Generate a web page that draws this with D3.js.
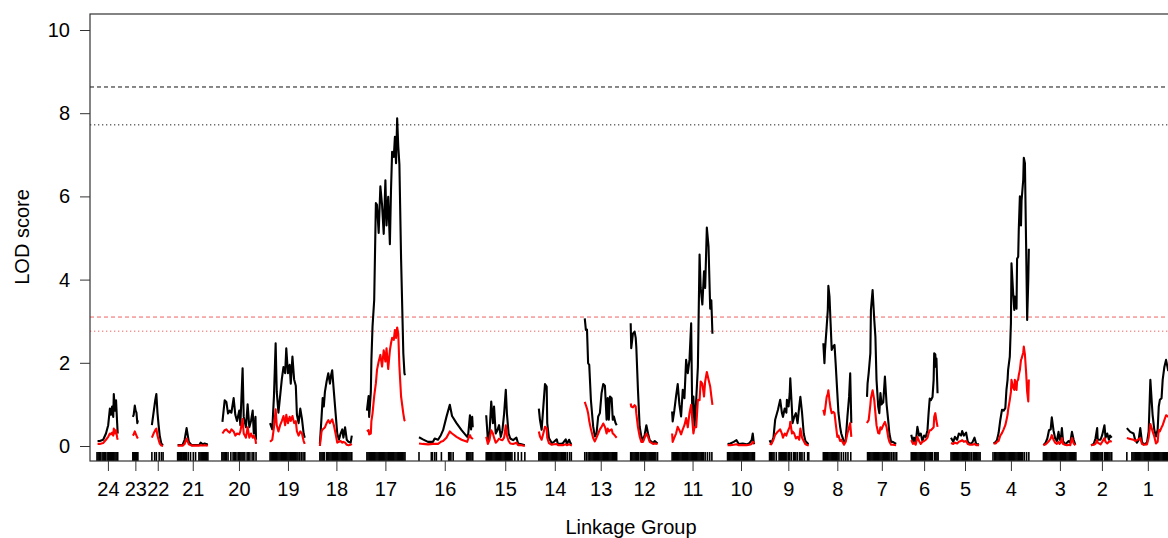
<!DOCTYPE html>
<html>
<head>
<meta charset="utf-8">
<script src="https://cdn.jsdelivr.net/npm/d3@7"></script>
<style>
  body { margin: 0; background: #fff; }
  svg { display: block; font-family: "Liberation Sans", Arial, sans-serif; }
</style>
</head>
<body>
<div id="lod-vis"></div>
<script>
// Linkage groups, left to right, with their lengths (cM)
const chromNames = ["24","23","22","21","20","19","18","17","16","15","14","13","12","11","10","9","8","7","6","5","4","3","2","1"];
const chromLengths = [39,9,21,54,61,64,59,66,96,70,57,57,48,75,48,71,54,55,46,50,64,61,39,75];
const chromGap = 25;

// LOD profiles per linkage group: [position cM, LOD (black), LOD (red)]
const lod24 = [[1,0.12,0.05],[5,0.12,0.05],[11,0.15,0.07],[16,0.3,0.15],[20,0.5,0.22],[23,0.9,0.3],[25,0.75,0.28],[27,0.95,0.32],[29,0.7,0.25],[30,1.25,0.42],[32,0.85,0.3],[34,1.1,0.38],[36,0.55,0.2],[37,0.3,0.15]];
const lod23 = [[0,0.7,0.25],[1.5,0.75,0.28],[3.5,0.97,0.35],[5,0.85,0.3],[6.5,0.8,0.25],[8,0.55,0.2],[9,0.62,0.18]];
const lod22 = [[0,0.5,0.2],[3,0.8,0.3],[6,1.1,0.38],[8,1.25,0.42],[10,0.8,0.25],[12,0.5,0.15],[14,0.25,0.06],[17,0.05,0.01],[20,0.02,0]];
const lod21 = [[0,0.02,0.01],[9,0.03,0.01],[12.5,0.15,0.05],[16,0.43,0.18],[20,0.1,0.04],[25,0.02,0.01],[39,0.03,0.01],[41,0.08,0.02],[45,0.04,0.01],[48,0.06,0.02],[52,0.04,0.01],[54,0.05,0.02]];
const lod20 = [[1,0.58,0.3],[5,1.1,0.38],[8,1.06,0.4],[11,0.78,0.35],[14,0.85,0.32],[17,0.8,0.4],[21,1.15,0.35],[24,0.75,0.25],[27,0.6,0.3],[31,0.85,0.28],[33,0.5,0.35],[37,1.87,0.65],[39,0.7,0.3],[43,0.45,0.2],[46,1.0,0.45],[49,0.45,0.2],[52,0.6,0.3],[55,0.85,0.2],[57,0.3,0.25],[60,0.7,0.15],[61,0.15,0.05]];
const lod19 = [[0,0.55,0.1],[4,0.4,0.15],[7,1.2,0.45],[10,2.47,0.88],[12,1.3,0.5],[15,0.8,0.35],[18,1.2,0.5],[21,1.6,0.6],[24,1.9,0.72],[27,1.75,0.5],[29,2.35,0.75],[32,1.75,0.55],[35,1.95,0.7],[37,1.5,0.6],[40,2.15,0.72],[43,1.6,0.55],[46,1.45,0.6],[48,0.75,0.35],[51,0.55,0.25],[54,0.9,0.35],[57,0.65,0.3],[60,0.3,0.12],[62,0.2,0.05]];
const lod18 = [[0,0.05,0],[3,0.7,0.35],[5,1.15,0.4],[7,0.95,0.42],[9,1.3,0.45],[12,1.55,0.55],[15,1.75,0.62],[18,1.5,0.55],[20,1.7,0.6],[22,1.82,0.64],[25,1.3,0.5],[28,0.8,0.3],[31,0.3,0.08],[34,0.15,0.1],[37,0.3,0.12],[40,0.4,0.08],[42,0.2,0.1],[45,0.45,0.08],[48,0.15,0.03],[51,0.1,0.02],[55,0.08,0.03],[57,0.25,0.05]];
const lod17 = [[0,0.85,0.35],[3,1.2,0.38],[4,0.7,0.28],[7,1.3,0.3],[8,2.07,0.6],[10,2.87,0.78],[13,3.51,1.2],[16,5.84,1.51],[18,5.8,1.83],[21,5.12,2.03],[24,6.24,2.19],[27,5.8,1.91],[30,5.1,2.3],[33,6.39,2.03],[35,5.3,2.35],[38,5.99,1.85],[41,4.85,2.3],[43,6.15,2.47],[45,7.07,2.6],[48,6.95,2.55],[50,7.43,2.79],[52,6.8,2.6],[54,7.88,2.85],[56,7.2,2.7],[58,6.77,1.91],[61,4.5,1.19],[65,2.23,0.78],[67,1.75,0.62],[68,1.7,0.6]];
const lod16 = [[2,0.21,0.06],[9,0.16,0.05],[18,0.1,0.04],[27,0.1,0.05],[30,0.18,0.05],[36,0.15,0.05],[41,0.26,0.1],[45,0.38,0.12],[51,0.7,0.2],[57,0.99,0.35],[61,0.72,0.3],[69,0.55,0.22],[78,0.38,0.15],[88,0.22,0.1],[90,0.3,0.18],[93,0.74,0.26],[95,0.4,0.2],[97,0.7,0.18],[98,0.45,0.2]];
const lod15 = [[1,0.74,0.22],[4,0.14,0.05],[7,0.35,0.15],[10,1.07,0.38],[13,0.55,0.3],[15,0.95,0.2],[18,0.3,0.08],[21,0.38,0.12],[24,0.5,0.18],[27,0.22,0.15],[30,0.38,0.14],[33,0.78,0.2],[36,1.35,0.5],[38,0.78,0.25],[41,0.3,0.12],[44,0.18,0.06],[49,0.14,0.05],[55,0.2,0.08],[58,0.06,0.02],[64,0.04,0.02],[70,0.02,0]];
const lod14 = [[0,0.9,0.35],[2,0.63,0.23],[5,0.39,0.15],[8,0.94,0.3],[11,1.49,0.46],[14,1.43,0.42],[15,0.55,0.2],[18,0.19,0.07],[23,0.07,0.03],[27,0.1,0.04],[32,0.16,0.05],[34,0.05,0.02],[40,0.05,0.02],[43,0.07,0.02],[48,0.16,0.04],[50,0.05,0.02],[54,0.15,0.04],[57,0.05,0.02],[59,0.06,0.02]];
const lod13 = [[0,3.07,1.06],[2,2.79,0.98],[4,2.8,0.9],[6,1.99,0.79],[8,1.95,0.6],[11,1.1,0.4],[15,0.47,0.19],[18,0.23,0.11],[21,0.3,0.2],[24,0.71,0.3],[27,0.79,0.4],[30,1.27,0.46],[33,1.49,0.54],[36,1.45,0.46],[39,0.63,0.3],[41,1.15,0.42],[43,0.63,0.35],[45,1.19,0.38],[48,1.15,0.4],[50,0.63,0.3],[52,0.71,0.28],[55,0.55,0.23],[57,0.5,0.2]];
const lod12 = [[0,2.95,1.02],[1,2.35,0.95],[4,2.7,0.93],[7,2.75,0.98],[9,2.6,0.95],[10,2.39,0.79],[13,1.35,0.45],[16,0.47,0.23],[19,0.23,0.1],[22,0.12,0.1],[25,0.27,0.2],[28,0.5,0.3],[31,0.3,0.22],[34,0.14,0.1],[40,0.07,0.05],[43,0.12,0.06],[48,0.06,0.05]];
const lod11 = [[1,0.83,0.3],[2,0.59,0.1],[5,0.86,0.2],[8,1.19,0.3],[11,1.49,0.46],[14,1.0,0.38],[17,0.71,0.28],[20,1.35,0.4],[23,1.15,0.5],[26,2.07,0.67],[29,1.75,0.45],[32,2.07,0.79],[35,2.95,0.99],[37,0.71,0.62],[39,1.19,0.3],[41,0.47,0.45],[44,1.11,0.45],[47,1.9,1.11],[50,4.6,1.1],[52,3.8,1.55],[55,3.4,1.5],[58,4.2,1.19],[60,3.8,1.55],[63,5.25,1.78],[66,4.8,1.6],[69,3.3,1.43],[71,3.5,1.2],[73,2.7,0.99]];
const lod10 = [[0,0.05,0.02],[5,0.06,0.02],[11,0.1,0.03],[16,0.14,0.04],[20,0.05,0.02],[27,0.06,0.02],[34,0.04,0.02],[39,0.07,0.03],[43,0.14,0.05],[45,0.3,0.1],[47,0.06,0.08],[48,0.08,0.07]];
const lod9 = [[2,0.14,0.05],[5,0.06,0.04],[9,0.2,0.15],[12,0.63,0.27],[17,0.87,0.35],[21,1.11,0.4],[24,0.8,0.3],[26,0.7,0.2],[29,0.9,0.3],[32,0.8,0.25],[33,1.11,0.3],[36,0.95,0.4],[38,1.27,0.46],[39,1.63,0.58],[42,0.87,0.3],[43,0.55,0.35],[46,0.7,0.3],[49,0.79,0.18],[52,0.55,0.22],[55,0.95,0.15],[57,1.18,0.42],[60,0.8,0.2],[63,0.3,0.12],[66,0.12,0.04],[70,0.06,0.02],[72,0.05,0.02]];
const lod8 = [[2,2.47,0.87],[4,1.99,0.75],[5,2.3,0.85],[8,2.87,1.18],[10,3.27,1.25],[11,3.85,1.34],[13,3.6,1.1],[15,2.95,0.9],[17,2.31,0.79],[20,2.4,0.82],[22,2.43,0.79],[24,1.99,0.55],[27,1.27,0.22],[29,0.8,0.25],[32,0.46,0.12],[34,0.3,0.15],[36,0.22,0.1],[39,0.1,0.03],[42,0.14,0.1],[45,0.7,0.3],[48,1.18,0.45],[50,1.75,0.55],[52,0.55,0.22]];
const lod7 = [[1,1.18,0.55],[2,1.5,0.58],[4,1.75,0.62],[7,2.23,0.99],[8,3.27,1.15],[11,3.75,1.34],[14,3.03,1.1],[16,2.63,0.79],[18,1.59,0.5],[21,0.95,0.31],[23,0.79,0.3],[25,1.27,0.45],[27,1.0,0.4],[30,1.05,0.5],[33,1.67,0.58],[36,1.0,0.45],[39,0.6,0.2],[41,0.3,0.1],[44,0.1,0.03],[47,0.1,0.03],[53,0.05,0.02]];
const lod6 = [[0,0.27,0.14],[3,0.1,0.05],[5,0.2,0.08],[8,0.08,0.03],[11,0.46,0.22],[14,0.25,0.12],[17,0.3,0.05],[20,0.12,0.1],[23,0.25,0.12],[26,0.22,0.15],[29,0.38,0.2],[31,0.79,0.3],[33,1.14,0.38],[35,1.1,0.38],[38,1.18,0.42],[40,1.59,0.45],[41,2.23,0.7],[43,2.2,0.79],[44,1.9,0.7],[45,2.1,0.6],[47,1.27,0.46]];
const lod5 = [[0,0.2,0.07],[4,0.1,0.05],[7,0.22,0.08],[11,0.15,0.06],[14,0.3,0.1],[18,0.25,0.12],[20,0.36,0.14],[23,0.25,0.1],[27,0.32,0.12],[30,0.1,0.05],[34,0.05,0.03],[38,0.08,0.03],[42,0.2,0.05],[45,0.05,0.02],[48,0.04,0.02],[50,0.05,0.02]];
const lod4 = [[1,0.06,0.06],[5,0.1,0.06],[7,0.14,0.1],[10,0.31,0.12],[13,0.62,0.25],[16,0.87,0.31],[19,0.85,0.4],[22,0.91,0.5],[24,1.35,0.62],[26,1.59,0.75],[27,1.83,0.87],[30,2.15,1.11],[32,2.95,1.3],[33,4.39,1.59],[36,3.67,1.4],[38,3.27,1.35],[39,3.59,1.59],[42,3.3,1.35],[43,4.5,1.55],[45,4.55,1.6],[46,5.19,1.7],[48,6.0,1.83],[50,5.3,2.07],[51,5.9,2.1],[54,6.4,2.25],[55,6.93,2.39],[57,6.8,2.2],[59,4.95,1.8],[61,3.03,1.3],[63,3.99,1.07],[64,4.74,1.6]];
const lod3 = [[1,0.02,0.02],[5,0.08,0.04],[8,0.18,0.08],[11,0.38,0.12],[14,0.4,0.18],[16,0.69,0.26],[19,0.38,0.15],[22,0.18,0.08],[25,0.12,0.05],[28,0.34,0.1],[30,0.15,0.05],[32,0.15,0.08],[34,0.43,0.19],[36,0.12,0.05],[40,0.04,0.03],[43,0.08,0.02],[46,0.12,0.03],[49,0.08,0.02],[52,0.34,0.19],[55,0.15,0.06],[58,0.03,0.02]];
const lod2 = [[0,0.02,0.02],[5,0.05,0.03],[8,0.18,0.05],[11,0.43,0.14],[12,0.15,0.08],[17,0.15,0.04],[20,0.26,0.1],[24,0.5,0.19],[26,0.2,0.1],[29,0.3,0.06],[32,0.15,0.1],[34,0.25,0.12],[37,0.2,0.1]];
const lod1 = [[0,0.43,0.19],[6,0.34,0.17],[12,0.3,0.15],[15,0.14,0.12],[18,0.08,0.14],[21,0.14,0.16],[24,0.43,0.19],[27,0.1,0.05],[30,0.04,0.03],[36,0.08,0.04],[39,0.35,0.2],[42,1.59,0.53],[45,0.95,0.4],[46,0.75,0.35],[49,0.39,0.23],[52,0.23,0.06],[55,0.39,0.1],[57,0.95,0.39],[59,1.11,0.35],[62,1.15,0.45],[64,1.59,0.5],[67,1.9,0.62],[70,2.07,0.74],[74,1.8,0.7]];

// Marker positions (cM) per linkage group, drawn as a rug
const mk24 = [0,2,4,6,9,11,13,15,18,20,22,24,26,28,30,32,34,36,37];
const mk23 = [0,1.5,3,4.5,6,7.5,9];
const mk22 = [0,5,8,13,17,20];
const mk21 = [0,1.5,3,5,6.5,8,10,12,14,16,19,23,28,32,38,40,42,44,46,48,50,52,54];
const mk20 = [0,2,4,6,8,11,16,20,22,24,27,30,32,34,36,38,41,45,47,50,54,57,61];
const mk19 = [0,2,4,6,8,10,12,14,16,18,20,22,24,26,28,30,32,34,36,38,40,42,44,46,48,50,53,56,59,62];
const mk18 = [0,2,4,6,8,12,14,16,18,20,22,24,26,28,30,32,34,36,38,40,42,44,46,48,50,52,54,57];
const mk17 = [0,2,4,6,8,10,12,14,16,18,20,22,24,26,28,30,32,34,36,38,40,42,44,46,48,50,52,54,56,58,60,62,64,66,68];
const mk16 = [2,24,26,30,33,42,55,57,59,63,87,89,91,93,95,98];
const mk15 = [1,3,5,7,9,11,13,15,17,19,21,23,25,27,29,31,33,35,37,39,41,43,45,47,52,58,64,70];
const mk14 = [0,2,4,6,8,10,12,14,16,18,20,22,24,26,28,30,32,34,36,38,40,42,44,46,48,51,55,58];
const mk13 = [0,3,6,9,11,13,15,17,19,21,23,25,27,29,31,33,35,37,39,41,43,45,47,49,51,53,55,57];
const mk12 = [0,2,4,6,8,10,12,14,17,19,21,23,25,27,29,31,33,35,37,39,41,43,45,48];
const mk11 = [1,3,5,7,9,11,13,15,17,19,21,23,25,27,29,31,33,35,37,39,41,43,45,47,49,51,53,55,57,60,64,68,72];
const mk10 = [0,2,4,6,8,10,12,14,16,18,20,22,24,26,28,30,32,34,36,38,40,42,44,46,48];
const mk9 = [2,4,6,8,10,14,19,21,23,25,27,29,31,33,36,38,41,45,47,49,52,56,58,60,64,70,72];
const mk8 = [2,4,6,8,10,12,14,16,18,20,22,24,26,28,30,34,38,42,46,51];
const mk7 = [2,4,6,8,10,12,14,16,18,20,22,24,26,28,30,32,34,36,38,40,42,45,48,51,54];
const mk6 = [0,2,4,6,8,10,12,14,16,18,20,22,24,26,28,30,32,34,36,38,42,44,46,48];
const mk5 = [0,2,4,6,8,10,12,14,16,18,20,22,24,26,28,30,32,34,37,40,42,44,46,48,50,52];
const mk4 = [0,3,5,7,9,11,13,15,17,19,21,23,25,27,29,31,33,35,37,39,41,43,45,47,49,51,53,56,60,64];
const mk3 = [1,3,5,7,9,11,13,15,17,19,21,23,25,27,29,31,33,35,37,39,41,43,45,47,49,51,53,55,57,59];
const mk2 = [0,2,4,6,8,10,12,14,16,18,20,24,26,28,30,32,34,37];
const mk1 = [0,9,11,13,15,17,19,21,23,25,27,29,31,33,35,37,39,41,43,45,47,49,51,53,55,57,59,61,63,65,67,69,71,73,75];

// Significance thresholds (LOD)
const blackThresholds = [8.63, 7.72];
const redThresholds = [3.10, 2.76];
const yTicks = [0, 2, 4, 6, 8, 10];

const profiles = [lod24,lod23,lod22,lod21,lod20,lod19,lod18,lod17,lod16,lod15,lod14,lod13,lod12,lod11,lod10,lod9,lod8,lod7,lod6,lod5,lod4,lod3,lod2,lod1];
const markerSets = [mk24,mk23,mk22,mk21,mk20,mk19,mk18,mk17,mk16,mk15,mk14,mk13,mk12,mk11,mk10,mk9,mk8,mk7,mk6,mk5,mk4,mk3,mk2,mk1];

// Lay the groups out end to end with a gap between them
let offset = 0;
const chroms = chromNames.map(function(name, i) {
    const c = {name: name, start: offset, len: chromLengths[i], lod: profiles[i], markers: markerSets[i]};
    offset += chromLengths[i] + chromGap;
    return c;
});

const width = 1168, height = 538;
const plot = {left: 90, top: 14, bottom: 461, right: 1200};

let svg = d3.select("#lod-vis")
            .append("svg")
            .attr("width", width)
            .attr("height", height);

const xScale = d3.scaleLinear()
                .domain([0, offset])
                .range([97, 97 + offset * 0.56]);
const yScale = d3.scaleLinear()
                .domain([0, 10])
                .range([446, 30]);

svg.append("clipPath").attr("id", "plot-clip")
    .append("rect")
    .attr("x", plot.left).attr("y", plot.top)
    .attr("width", plot.right - plot.left).attr("height", plot.bottom - plot.top);

// Threshold lines
const thresholdData = [
    {v: blackThresholds[0], color: "#111", dash: "4,3"},
    {v: blackThresholds[1], color: "#222", dash: "1.3,2.7"},
    {v: redThresholds[0], color: "#f06060", dash: "4,3"},
    {v: redThresholds[1], color: "#f06060", dash: "1.3,2.7"}
];
svg.append("g").selectAll("line")
    .data(thresholdData)
    .enter()
    .append("line")
        .attr("x1", plot.left).attr("x2", plot.right)
        .attr("y1", d => yScale(d.v)).attr("y2", d => yScale(d.v))
        .attr("stroke", d => d.color)
        .attr("stroke-width", 1)
        .attr("stroke-dasharray", d => d.dash);

// LOD curves: black first, red on top
const curves = svg.append("g").attr("clip-path", "url(#plot-clip)");
[{idx: 1, color: "#000"}, {idx: 2, color: "#ff0000"}].forEach(function(s) {
    curves.selectAll(null)
        .data(chroms)
        .enter()
        .append("path")
            .attr("fill", "none")
            .attr("stroke", s.color)
            .attr("stroke-width", 2.1)
            .attr("stroke-linejoin", "round")
            .attr("d", c => d3.line()
                .x(d => xScale(c.start + d[0]))
                .y(d => yScale(d[s.idx]))(c.lod));
});

// Marker rug
const rug = svg.append("g").attr("clip-path", "url(#plot-clip)");
chroms.forEach(function(c) {
    rug.selectAll(null)
        .data(c.markers)
        .enter()
        .append("line")
            .attr("x1", d => xScale(c.start + d)).attr("x2", d => xScale(c.start + d))
            .attr("y1", plot.bottom - 9).attr("y2", plot.bottom)
            .attr("stroke", "#000")
            .attr("stroke-width", 1.6);
});

// Plot frame (right edge falls outside the picture)
svg.append("rect")
    .attr("x", plot.left).attr("y", plot.top)
    .attr("width", plot.right - plot.left).attr("height", plot.bottom - plot.top)
    .attr("fill", "none")
    .attr("stroke", "#333")
    .attr("stroke-width", 1.2);

// Y axis
const yAxis = svg.append("g")
    .attr("transform", `translate(${plot.left},0)`)
    .call(d3.axisLeft(yScale).tickValues(yTicks).tickSize(10).tickPadding(10));
yAxis.select(".domain").remove();
yAxis.selectAll("line").attr("stroke", "#333");
yAxis.selectAll("text").style("font-size", "20px").attr("fill", "#000");

// X axis: one tick in the middle of each linkage group
const xAxis = svg.append("g")
    .attr("transform", `translate(0,${plot.bottom})`)
    .call(d3.axisBottom(xScale)
        .tickValues(chroms.map(c => c.start + c.len / 2))
        .tickFormat((d, i) => chroms[i].name)
        .tickSize(10).tickPadding(11));
xAxis.select(".domain").remove();
xAxis.selectAll("line").attr("stroke", "#333");
xAxis.selectAll("text").style("font-size", "20px").attr("fill", "#000");

// Axis titles
svg.append("text")
    .attr("x", 631).attr("y", 534)
    .attr("text-anchor", "middle")
    .style("font-size", "20px")
    .text("Linkage Group");
svg.append("text")
    .attr("transform", "translate(29,237) rotate(-90)")
    .attr("text-anchor", "middle")
    .style("font-size", "20px")
    .text("LOD score");
</script>
</body>
</html>
